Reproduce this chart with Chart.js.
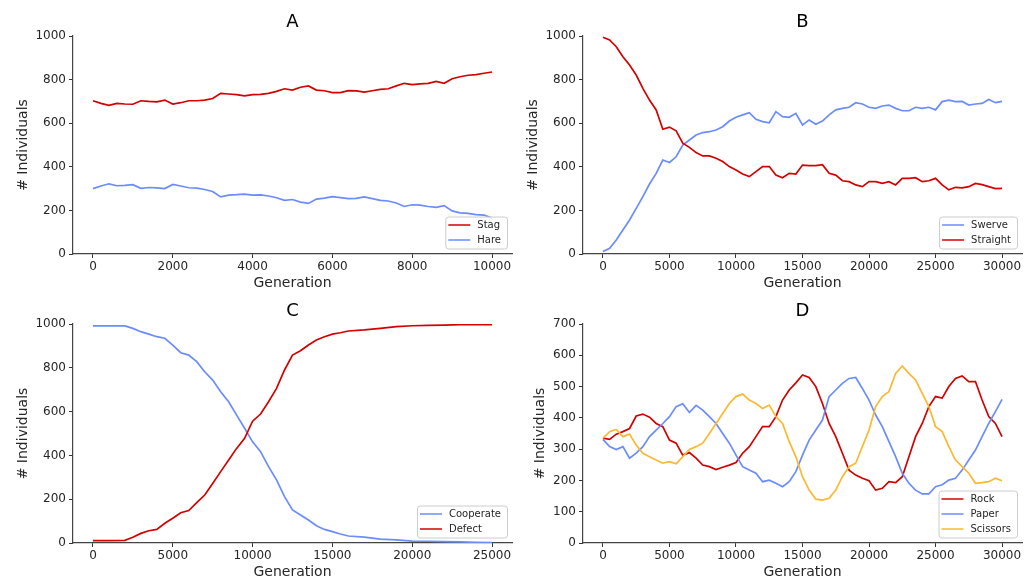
<!DOCTYPE html>
<html lang="en">

<head>
    <meta charset="UTF-8">
    <title>Population dynamics</title>
    <style>
        body {
            margin: 0;
            background: #fff;
        }

        #wrap {
            position: relative;
            width: 1031px;
            height: 579px;
            background: #fff;
        }

        #wrap canvas {
            position: absolute;
        }
    </style>
</head>

<body>
    <div id="wrap">
        <canvas id="chartA" width="515" height="290" style="left:0;top:0"></canvas>
        <canvas id="chartB" width="516" height="290" style="left:515px;top:0"></canvas>
        <canvas id="chartC" width="515" height="289" style="left:0;top:290px"></canvas>
        <canvas id="chartD" width="516" height="289" style="left:515px;top:290px"></canvas>
    </div>

    <script src="https://cdn.jsdelivr.net/npm/chart.js"></script>
    <script>
        // A: stag hunt
        const genA = [0, 200, 400, 600, 800, 1000, 1200, 1400, 1600, 1800, 2000, 2200, 2400, 2600, 2800, 3000, 3200, 3400, 3600, 3800, 4000, 4200, 4400, 4600, 4800, 5000, 5200, 5400, 5600, 5800, 6000, 6200, 6400, 6600, 6800, 7000, 7200, 7400, 7600, 7800, 8000, 8200, 8400, 8600, 8800, 9000, 9200, 9400, 9600, 9800, 10000];
        const stagA = [703, 691, 682, 691, 688, 687, 703, 700, 698, 706, 688, 694, 703, 703, 706, 713, 737, 734, 731, 725, 731, 732, 737, 746, 758, 752, 765, 771, 752, 749, 740, 740, 749, 748, 743, 749, 755, 758, 771, 783, 777, 780, 783, 792, 783, 804, 813, 820, 823, 829, 835];
        const hareA = [300, 312, 322, 313, 315, 318, 301, 305, 303, 300, 319, 312, 304, 302, 296, 287, 262, 270, 272, 275, 270, 271, 266, 258, 246, 250, 238, 232, 252, 256, 263, 259, 254, 255, 262, 254, 246, 243, 234, 218, 226, 224, 218, 214, 222, 198, 189, 186, 181, 178, 165];
        const xTicksA = [0, 2000, 4000, 6000, 8000, 10000];

        // B: chicken
        const genB = [0, 500, 1000, 1500, 2000, 2500, 3000, 3500, 4000, 4500, 5000, 5500, 6000, 6500, 7000, 7500, 8000, 8500, 9000, 9500, 10000, 10500, 11000, 11500, 12000, 12500, 13000, 13500, 14000, 14500, 15000, 15500, 16000, 16500, 17000, 17500, 18000, 18500, 19000, 19500, 20000, 20500, 21000, 21500, 22000, 22500, 23000, 23500, 24000, 24500, 25000, 25500, 26000, 26500, 27000, 27500, 28000, 28500, 29000, 29500, 30000];
        const swerveB = [11, 26, 64, 110, 156, 209, 263, 321, 370, 431, 420, 446, 500, 523, 546, 557, 561, 569, 584, 610, 627, 638, 648, 618, 607, 602, 653, 630, 627, 645, 592, 615, 595, 610, 638, 661, 668, 673, 694, 688, 673, 668, 679, 683, 668, 657, 657, 673, 668, 673, 661, 699, 706, 699, 700, 683, 688, 691, 709, 694, 700];
        const straightB = [994, 982, 951, 905, 867, 821, 760, 706, 661, 572, 582, 565, 508, 489, 465, 450, 450, 439, 424, 401, 385, 367, 355, 378, 401, 401, 362, 350, 370, 367, 408, 405, 405, 410, 370, 362, 336, 332, 317, 309, 332, 332, 324, 332, 317, 347, 347, 350, 332, 336, 347, 317, 294, 306, 303, 309, 324, 318, 309, 300, 301];
        const xTicksB = [0, 5000, 10000, 15000, 20000, 25000, 30000];

        // C: prisoner's dilemma
        const genC = [0, 1000, 2000, 2500, 3000, 3500, 4000, 4500, 5000, 5500, 6000, 6500, 7000, 7500, 8000, 8500, 9000, 9500, 10000, 10500, 11000, 11500, 12000, 12500, 13000, 13500, 14000, 14500, 15000, 15500, 16000, 17000, 18000, 19000, 20000, 21000, 22000, 23000, 24000, 25000];
        const cooperateC = [991, 991, 991, 980, 965, 954, 942, 935, 904, 869, 858, 828, 782, 744, 691, 645, 584, 524, 462, 417, 349, 288, 212, 151, 128, 105, 79, 62, 52, 41, 32, 27, 18, 14, 9, 8, 6, 5, 3, 2];
        const defectC = [11, 11, 12, 26, 44, 56, 62, 90, 113, 138, 148, 184, 219, 272, 326, 379, 432, 478, 556, 589, 645, 706, 790, 858, 878, 904, 927, 942, 954, 960, 968, 973, 980, 988, 992, 994, 995, 997, 997, 997];
        const xTicksC = [0, 5000, 10000, 15000, 20000, 25000];

        // D: rock paper scissors
        const genD = genB;
        const rockD = [335, 331, 348, 356, 366, 406, 412, 402, 382, 372, 329, 319, 281, 289, 271, 249, 244, 235, 242, 249, 257, 287, 308, 340, 372, 372, 404, 457, 489, 512, 537, 529, 500, 446, 382, 340, 287, 233, 217, 207, 199, 169, 175, 196, 193, 212, 276, 340, 382, 436, 468, 463, 500, 526, 534, 516, 516, 457, 404, 382, 340];
        const paperD = [331, 308, 299, 308, 271, 287, 308, 340, 361, 382, 404, 436, 445, 417, 440, 425, 404, 382, 350, 319, 281, 244, 233, 223, 196, 201, 191, 180, 196, 228, 281, 329, 361, 393, 468, 489, 510, 526, 529, 494, 457, 409, 372, 324, 276, 223, 191, 169, 157, 157, 180, 186, 201, 207, 233, 265, 297, 340, 382, 420, 459];
        const scissorsD = [335, 356, 363, 340, 348, 313, 287, 276, 265, 255, 260, 253, 276, 299, 308, 319, 350, 382, 414, 446, 468, 476, 457, 446, 430, 441, 404, 382, 324, 276, 212, 169, 140, 137, 143, 169, 212, 244, 255, 308, 361, 436, 468, 484, 542, 566, 542, 521, 478, 436, 372, 356, 308, 265, 244, 223, 191, 193, 196, 207, 199];
        const xTicksD = [0, 5000, 10000, 15000, 20000, 25000, 30000];

        const yTicks1000 = [0, 200, 400, 600, 800, 1000];
        const yTicks700 = [0, 100, 200, 300, 400, 500, 600, 700];

        const RED = '#d40000';
        const BLUE = '#6a8cff';
        const YELLOW = '#fbb830';

        Chart.defaults.font.family = '"DejaVu Sans", sans-serif';
        Chart.defaults.color = '#262626';

        // legend box drawn inside the lower right corner of the plot area
        const legendBox = {
            id: 'legendBox',
            afterDraw(chart) {
                const { ctx, chartArea } = chart;
                const sets = chart.data.datasets;
                ctx.save();
                ctx.font = '10px "DejaVu Sans", sans-serif';
                const textW = Math.max(...sets.map(d => ctx.measureText(d.label).width));
                const w = 3 + 22 + 7 + textW + 6;
                const h = 17 + 15 * (sets.length - 1);
                const x = chartArea.right - 5 - w;
                const y = chartArea.bottom - 5.5 - h;
                ctx.beginPath();
                ctx.roundRect(x + 0.5, y + 0.5, w, h, 3);
                ctx.fillStyle = 'rgba(255,255,255,0.8)';
                ctx.fill();
                ctx.strokeStyle = '#cccccc';
                ctx.lineWidth = 1;
                ctx.stroke();
                sets.forEach((d, i) => {
                    const cy = y + 8.5 + 15 * i;
                    ctx.beginPath();
                    ctx.moveTo(x + 3, cy);
                    ctx.lineTo(x + 25, cy);
                    ctx.strokeStyle = d.borderColor;
                    ctx.lineWidth = 1.5;
                    ctx.stroke();
                    ctx.fillStyle = '#262626';
                    ctx.textBaseline = 'middle';
                    ctx.fillText(d.label, x + 32, cy);
                });
                ctx.restore();
            }
        };

        function makePanel(id, p) {
            const n = p.series.length;
            return new Chart(document.getElementById(id), {
                type: 'line',
                data: {
                    datasets: p.series.map((s, i) => ({
                        label: s.label,
                        data: p.gens.map((g, k) => ({ x: g, y: s.values[k] })),
                        borderColor: s.color,
                        borderWidth: 1.7,
                        pointRadius: 0,
                        tension: 0,
                        fill: false,
                        order: n - i
                    }))
                },
                options: {
                    responsive: false,
                    animation: false,
                    layout: { padding: { left: 0, right: p.padRight, top: 0, bottom: 0 } },
                    plugins: {
                        legend: { display: false },
                        tooltip: { enabled: false },
                        title: {
                            display: true,
                            text: p.title,
                            fullSize: false,
                            color: '#000',
                            font: { size: 18, weight: 'normal' },
                            padding: { top: p.titleTop, bottom: p.titleBottom }
                        }
                    },
                    scales: {
                        x: {
                            type: 'linear',
                            min: p.xMin,
                            max: p.xMax,
                            afterBuildTicks: s => { s.ticks = p.xTicks.map(v => ({ value: v })); },
                            afterFit: s => { s.height = 36; },
                            grid: { drawOnChartArea: false, tickLength: 4, color: '#333' },
                            border: { color: '#444', width: 1.2 },
                            ticks: { font: { size: 12 }, padding: 2, maxRotation: 0, autoSkip: false, callback: v => String(v) },
                            title: { display: true, text: 'Generation', font: { size: 14, lineHeight: 1 }, padding: 0 }
                        },
                        y: {
                            min: 0,
                            max: p.yMax,
                            afterBuildTicks: s => { s.ticks = p.yTicks.map(v => ({ value: v })); },
                            afterFit: s => { s.width = p.axisW; },
                            grid: { drawOnChartArea: false, tickLength: 4, color: '#333' },
                            border: { color: '#444', width: 1.2 },
                            ticks: { font: { size: 12 }, padding: 3, autoSkip: false, callback: v => String(v) },
                            title: { display: true, text: '# Individuals', font: { size: 14 }, padding: { top: p.yTitlePad, bottom: 0 } }
                        }
                    }
                },
                plugins: [legendBox]
            });
        }

        makePanel('chartA', {
            title: 'A', gens: genA, xMin: -500, xMax: 10500, xTicks: xTicksA,
            yMax: 1000, yTicks: yTicks1000,
            axisW: 73, padRight: 3, titleTop: 12, titleBottom: 2.4, yTitlePad: 15,
            series: [
                { label: 'Stag', values: stagA, color: RED },
                { label: 'Hare', values: hareA, color: BLUE }
            ]
        });

        makePanel('chartB', {
            title: 'B', gens: genB, xMin: -1500, xMax: 31500, xTicks: xTicksB,
            yMax: 1000, yTicks: yTicks1000,
            axisW: 68, padRight: 9, titleTop: 12, titleBottom: 2.4, yTitlePad: 10,
            series: [
                { label: 'Swerve', values: swerveB, color: BLUE },
                { label: 'Straight', values: straightB, color: RED }
            ]
        });

        makePanel('chartC', {
            title: 'C', gens: genC, xMin: -1250, xMax: 26250, xTicks: xTicksC,
            yMax: 1000, yTicks: yTicks1000,
            axisW: 73, padRight: 3, titleTop: 11, titleBottom: 1.4, yTitlePad: 15,
            series: [
                { label: 'Cooperate', values: cooperateC, color: BLUE },
                { label: 'Defect', values: defectC, color: RED }
            ]
        });

        makePanel('chartD', {
            title: 'D', gens: genD, xMin: -1500, xMax: 31500, xTicks: xTicksD,
            yMax: 700, yTicks: yTicks700,
            axisW: 68, padRight: 9, titleTop: 11, titleBottom: 1.4, yTitlePad: 17,
            series: [
                { label: 'Rock', values: rockD, color: RED },
                { label: 'Paper', values: paperD, color: BLUE },
                { label: 'Scissors', values: scissorsD, color: YELLOW }
            ]
        });
    </script>
</body>

</html>
